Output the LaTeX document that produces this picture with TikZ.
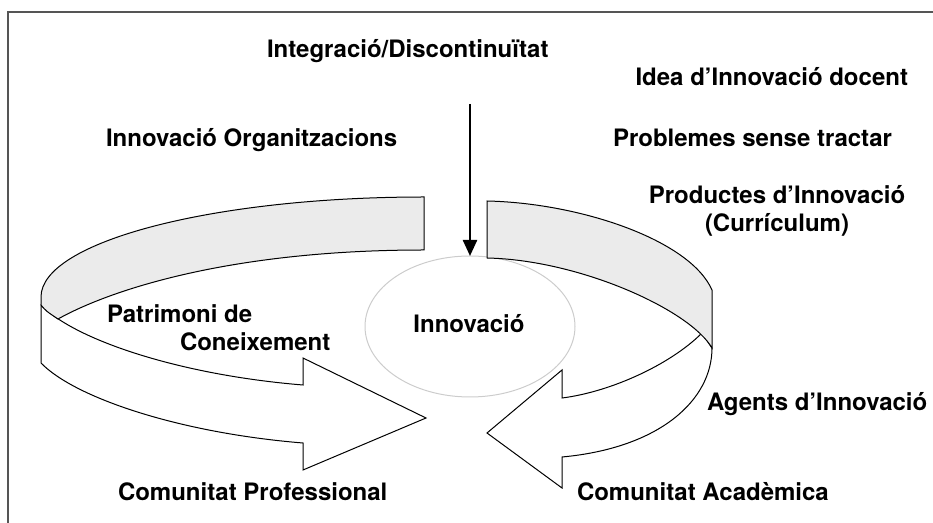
\documentclass[tikz,border=0pt]{standalone}
\usepackage{fontspec}
\setmainfont{TeX Gyre Heros}
\usetikzlibrary{arrows.meta,shapes.geometric}
\definecolor{bandgray}{HTML}{EBEBEB}
\definecolor{framegray}{HTML}{555555}
\definecolor{ellgray}{HTML}{CCCCCC}
\begin{document}
\begin{tikzpicture}[x=0.75pt,y=-0.75pt,
  lbl/.style={font=\bfseries\fontsize{18}{21}\selectfont, inner sep=0pt, outer sep=0pt, anchor=base west},
  ribbon/.style={draw=black, line width=0.75pt, line join=miter}]
\useasboundingbox (0,0) rectangle (933,523);
% frame
\draw[framegray, line width=1.5pt] (8,523) -- (8,12) -- (933,12);
% central ellipse
\node[draw=ellgray, line width=0.75pt, ellipse, minimum width=157.5pt, minimum height=105.75pt, inner sep=0pt, outer sep=0pt] (inn) at (470,326.5) {};
% left ribbon
\filldraw[ribbon, fill=white] (41,305) .. controls (75,340) and (180,375) .. (303,385) -- (303,358) -- (426,418) -- (303,470) -- (303,443) .. controls (180,433) and (75,398) .. (41,363) -- cycle;
\filldraw[ribbon, fill=bandgray] (424,197) .. controls (212,197) and (41,242) .. (41,297) -- (41,305) .. controls (46,311) .. (58,319) .. controls (110,290) and (230,250) .. (424,250) -- cycle;
% right ribbon
\filldraw[ribbon, fill=white] (702,333) .. controls (670,365) and (610,392) .. (562,398) -- (562,370) -- (487,433) -- (562,488) -- (562,457) .. controls (660,448) and (712,400) .. (712,348) -- cycle;
\filldraw[ribbon, fill=bandgray] (487,201) .. controls (580,203) and (690,240) .. (712,290) -- (712,348) .. controls (690,310) and (580,260) .. (487,258) -- cycle;
% vertical arrow
\coordinate (src) at (470,104);
\draw[line width=1.8pt, -{Triangle[length=12pt,width=10.5pt]}] (src) -- (inn.north);
% labels
\node[lbl] (integ) at (267,58) {Integració/Discontinuïtat};
\node[lbl] (org) at (106,147) {Innovació Organitzacions};
\node[lbl, anchor=base east] (idea) at (908,86) {Idea d’Innovació docent};
\node[lbl] (prob) at (613,147) {Problemes sense tractar};
\node[lbl, anchor=base] (prod) at (777,204) {Productes d’Innovació};
\node[lbl, anchor=base] (curr) at (777,232) {(Currículum)};
\node[lbl] (agents) at (707,411) {Agents d’Innovació};
\node[lbl] (acad) at (577,501) {Comunitat Acadèmica};
\node[lbl] (prof) at (118,501) {Comunitat Professional};
\node[lbl] (patr) at (107,323) {Patrimoni de};
\node[lbl] (conei) at (180,351) {Coneixement};
\node[lbl, anchor=base] (innt) at (469,333) {Innovació};
\end{tikzpicture}
\end{document}
